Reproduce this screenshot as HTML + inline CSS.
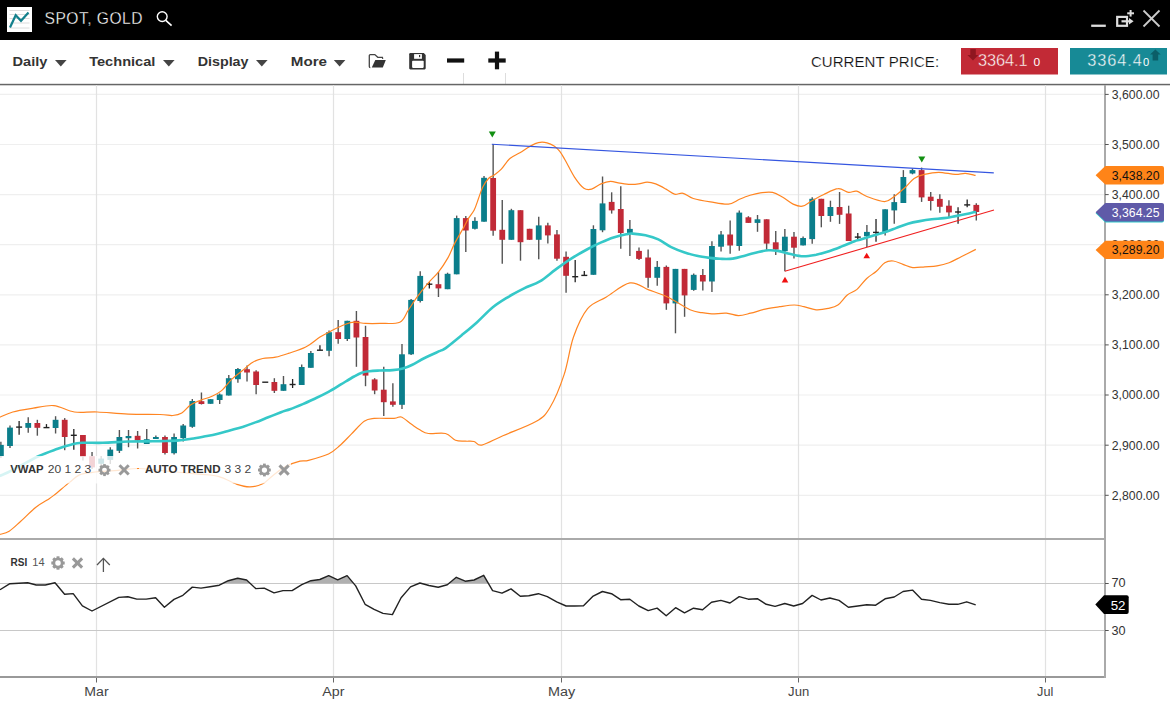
<!DOCTYPE html>
<html><head><meta charset="utf-8"><title>SPOT, GOLD</title>
<style>html,body{margin:0;padding:0;background:#fff;width:1170px;height:701px;overflow:hidden}svg{display:block}</style>
</head><body>
<svg width="1170" height="701" viewBox="0 0 1170 701">
<rect x="0" y="0" width="1170" height="40" fill="#000"/>
<rect x="7" y="7" width="25" height="25" fill="#fff"/>
<line x1="9.5" y1="10.5" x2="29.5" y2="10.5" stroke="#dcdcdc" stroke-width="1"/>
<line x1="9.5" y1="14.5" x2="29.5" y2="14.5" stroke="#dcdcdc" stroke-width="1"/>
<line x1="9.5" y1="18.5" x2="29.5" y2="18.5" stroke="#dcdcdc" stroke-width="1"/>
<line x1="9.5" y1="23" x2="29.5" y2="23" stroke="#dcdcdc" stroke-width="1"/>
<line x1="9.5" y1="28" x2="29.5" y2="28" stroke="#dcdcdc" stroke-width="1"/>
<polyline points="10,27.5 15.7,15.2 21,20.8 28.5,12.5" fill="none" stroke="#13808c" stroke-width="2.2" stroke-linejoin="miter"/>
<text x="44.5" y="24.1" font-family='"Liberation Sans", sans-serif' font-size="15.6" fill="#fff" stroke="#000" stroke-width="0.3" textLength="98" lengthAdjust="spacing">SPOT, GOLD</text>
<circle cx="162.2" cy="16.6" r="4.9" fill="none" stroke="#fff" stroke-width="1.4"/>
<line x1="165.8" y1="20.3" x2="171.6" y2="25.7" stroke="#fff" stroke-width="1.6"/>
<rect x="1091.2" y="24.6" width="14.6" height="2.3" fill="#ddd"/>
<rect x="1117.2" y="16.9" width="9.8" height="8.9" fill="none" stroke="#ddd" stroke-width="2.2"/>
<line x1="1121.5" y1="21.3" x2="1130" y2="21.3" stroke="#ddd" stroke-width="2.2"/>
<polygon points="1129,18 1133.6,21.3 1129,24.6" fill="#ddd"/>
<line x1="1127.2" y1="13.3" x2="1134" y2="13.3" stroke="#ddd" stroke-width="2"/>
<line x1="1130.6" y1="10" x2="1130.6" y2="16.6" stroke="#ddd" stroke-width="2"/>
<line x1="1143.5" y1="10.5" x2="1159.5" y2="26.5" stroke="#ccc" stroke-width="1.8"/>
<line x1="1159.5" y1="10.5" x2="1143.5" y2="26.5" stroke="#ccc" stroke-width="1.8"/>
<text x="12.6" y="65.8" font-family='"Liberation Sans", sans-serif' font-weight="bold" font-size="13.6" fill="#333" textLength="34.8" lengthAdjust="spacingAndGlyphs">Daily</text>
<polygon points="55,60 66.6,60 60.8,66.4" fill="#444"/>
<text x="89.2" y="65.8" font-family='"Liberation Sans", sans-serif' font-weight="bold" font-size="13.6" fill="#333" textLength="66.2" lengthAdjust="spacingAndGlyphs">Technical</text>
<polygon points="163,60 174.6,60 168.8,66.4" fill="#444"/>
<text x="197.7" y="65.8" font-family='"Liberation Sans", sans-serif' font-weight="bold" font-size="13.6" fill="#333" textLength="50.8" lengthAdjust="spacingAndGlyphs">Display</text>
<polygon points="256,60 267.6,60 261.8,66.4" fill="#444"/>
<text x="290.8" y="65.8" font-family='"Liberation Sans", sans-serif' font-weight="bold" font-size="13.6" fill="#333" textLength="36.2" lengthAdjust="spacingAndGlyphs">More</text>
<polygon points="333.8,60 345.40000000000003,60 339.6,66.4" fill="#444"/>
<path d="M382.7,58.8 L382.4,57.4 L377.8,57.3 L374.8,54.6 L370.3,54.6 Q369.3,54.6 369.3,55.6 L369.3,66.6 Q369.3,67.6 370.3,67.6" fill="none" stroke="#444" stroke-width="1.3"/>
<polygon points="375.3,60 385.8,60 382.8,67.6 371.8,67.6" fill="#333"/>
<path d="M409.2,54.2 Q409.2,53.1 410.3,53.1 L423.8,53.1 L425.7,55 L425.7,68.3 Q425.7,69.4 424.6,69.4 L410.3,69.4 Q409.2,69.4 409.2,68.3 Z" fill="#333"/>
<rect x="414.1" y="54.1" width="7.8" height="4.7" fill="#fff"/>
<rect x="419" y="55" width="1.2" height="2.2" fill="#333"/>
<rect x="412.1" y="60.8" width="11.6" height="7.1" rx="0.8" fill="#fff"/>
<rect x="447" y="58.4" width="17.2" height="4.2" fill="#111"/>
<rect x="488.3" y="58.4" width="17.4" height="4.2" fill="#111"/>
<rect x="494.9" y="51.6" width="4.2" height="17.7" fill="#111"/>
<line x1="463.5" y1="73" x2="463.5" y2="84" stroke="#ddd" stroke-width="1"/>
<line x1="505.5" y1="73" x2="505.5" y2="84" stroke="#ddd" stroke-width="1"/>
<text x="810.9" y="67" font-family='"Liberation Sans", sans-serif' font-size="15" fill="#111" stroke="#fff" stroke-width="0.15" textLength="128.2" lengthAdjust="spacing">CURRENT PRICE:</text>
<rect x="961" y="48" width="97" height="26.5" fill="#c22a36"/>
<polygon points="970.3,49 975.8,49 975.8,55 978.4,55 973,60.5 967.4,55 970.3,55" fill="#8f1620"/>
<text x="978" y="66.1" font-family='"Liberation Sans", sans-serif' font-size="16.4" fill="#fff" stroke="#c22a36" stroke-width="0.35" textLength="49.5" lengthAdjust="spacing">3364.1</text>
<text x="1033.6" y="66.1" font-family='"Liberation Sans", sans-serif' font-size="11" fill="#fff" textLength="6.7" lengthAdjust="spacingAndGlyphs">0</text>
<rect x="1070" y="48" width="97" height="26.5" fill="#178a96"/>
<polygon points="1155.4,49.4 1160.7,54.6 1158.2,54.6 1158.2,60.5 1152.6,60.5 1152.6,54.6 1150,54.6" fill="#0b5e68"/>
<text x="1087.2" y="66.1" font-family='"Liberation Sans", sans-serif' font-size="16.4" fill="#fff" stroke="#178a96" stroke-width="0.35" textLength="54.7" lengthAdjust="spacing">3364.4</text>
<text x="1143" y="66.1" font-family='"Liberation Sans", sans-serif' font-size="11" fill="#fff" textLength="6.2" lengthAdjust="spacingAndGlyphs">0</text>
<rect x="0" y="83.8" width="1170" height="1.5" fill="#666"/>
<line x1="0" y1="495.3" x2="1104" y2="495.3" stroke="#efefef" stroke-width="1.2"/>
<line x1="0" y1="445.2" x2="1104" y2="445.2" stroke="#efefef" stroke-width="1.2"/>
<line x1="0" y1="395.0" x2="1104" y2="395.0" stroke="#efefef" stroke-width="1.2"/>
<line x1="0" y1="344.9" x2="1104" y2="344.9" stroke="#efefef" stroke-width="1.2"/>
<line x1="0" y1="294.8" x2="1104" y2="294.8" stroke="#efefef" stroke-width="1.2"/>
<line x1="0" y1="244.7" x2="1104" y2="244.7" stroke="#efefef" stroke-width="1.2"/>
<line x1="0" y1="194.6" x2="1104" y2="194.6" stroke="#efefef" stroke-width="1.2"/>
<line x1="0" y1="144.5" x2="1104" y2="144.5" stroke="#efefef" stroke-width="1.2"/>
<line x1="0" y1="94.4" x2="1104" y2="94.4" stroke="#efefef" stroke-width="1.2"/>
<line x1="96.5" y1="85" x2="96.5" y2="676" stroke="#e2e2e2" stroke-width="1.2"/>
<line x1="333.5" y1="85" x2="333.5" y2="676" stroke="#e2e2e2" stroke-width="1.2"/>
<line x1="561.5" y1="85" x2="561.5" y2="676" stroke="#e2e2e2" stroke-width="1.2"/>
<line x1="798.5" y1="85" x2="798.5" y2="676" stroke="#e2e2e2" stroke-width="1.2"/>
<line x1="1045.5" y1="85" x2="1045.5" y2="676" stroke="#e2e2e2" stroke-width="1.2"/>
<line x1="0" y1="583.5" x2="1104" y2="583.5" stroke="#c8c8c8" stroke-width="1"/>
<line x1="0" y1="630.5" x2="1104" y2="630.5" stroke="#c8c8c8" stroke-width="1"/>
<line x1="0.88" y1="441.7" x2="0.88" y2="458.0" stroke="#555" stroke-width="1.4"/>
<rect x="-2.02" y="444.9" width="5.8" height="11.3" fill="#0b7e8b"/>
<line x1="10.00" y1="425.4" x2="10.00" y2="448.1" stroke="#555" stroke-width="1.4"/>
<rect x="7.10" y="427.6" width="5.8" height="18.4" fill="#0b7e8b"/>
<line x1="19.12" y1="421.1" x2="19.12" y2="434.8" stroke="#222" stroke-width="1.3"/>
<line x1="16.12" y1="427.1" x2="22.12" y2="427.1" stroke="#222" stroke-width="1.4"/>
<line x1="28.23" y1="417.3" x2="28.23" y2="432.7" stroke="#555" stroke-width="1.4"/>
<rect x="25.33" y="423.0" width="5.8" height="4.8" fill="#0b7e8b"/>
<line x1="37.35" y1="419.8" x2="37.35" y2="435.7" stroke="#555" stroke-width="1.4"/>
<rect x="34.45" y="423.0" width="5.8" height="4.8" fill="#c12a37"/>
<line x1="46.46" y1="424.1" x2="46.46" y2="427.6" stroke="#222" stroke-width="1.3"/>
<line x1="43.46" y1="427.6" x2="49.46" y2="427.6" stroke="#222" stroke-width="1.4"/>
<line x1="55.58" y1="416.2" x2="55.58" y2="433.5" stroke="#555" stroke-width="1.4"/>
<rect x="52.68" y="419.8" width="5.8" height="8.2" fill="#0b7e8b"/>
<line x1="64.70" y1="418.1" x2="64.70" y2="450.2" stroke="#555" stroke-width="1.4"/>
<rect x="61.80" y="419.8" width="5.8" height="17.2" fill="#c12a37"/>
<line x1="73.81" y1="429.0" x2="73.81" y2="449.8" stroke="#222" stroke-width="1.3"/>
<line x1="70.81" y1="435.3" x2="76.81" y2="435.3" stroke="#222" stroke-width="1.4"/>
<line x1="82.93" y1="435.0" x2="82.93" y2="460.5" stroke="#555" stroke-width="1.4"/>
<rect x="80.03" y="435.0" width="5.8" height="21.9" fill="#c12a37"/>
<line x1="92.04" y1="452.0" x2="92.04" y2="469.0" stroke="#555" stroke-width="1.4"/>
<rect x="89.14" y="456.2" width="5.8" height="11.2" fill="#c12a37"/>
<line x1="101.16" y1="456.0" x2="101.16" y2="466.0" stroke="#555" stroke-width="1.4"/>
<rect x="98.26" y="458.6" width="5.8" height="5.2" fill="#0b7e8b"/>
<line x1="110.28" y1="447.2" x2="110.28" y2="464.0" stroke="#555" stroke-width="1.4"/>
<rect x="107.38" y="449.6" width="5.8" height="10.3" fill="#0b7e8b"/>
<line x1="119.39" y1="430.0" x2="119.39" y2="453.0" stroke="#555" stroke-width="1.4"/>
<rect x="116.49" y="437.0" width="5.8" height="13.8" fill="#0b7e8b"/>
<line x1="128.51" y1="430.0" x2="128.51" y2="447.2" stroke="#555" stroke-width="1.4"/>
<rect x="125.61" y="436.0" width="5.8" height="2.2" fill="#0b7e8b"/>
<line x1="137.62" y1="431.0" x2="137.62" y2="448.5" stroke="#555" stroke-width="1.4"/>
<rect x="134.72" y="435.8" width="5.8" height="4.7" fill="#c12a37"/>
<line x1="146.74" y1="429.0" x2="146.74" y2="444.0" stroke="#555" stroke-width="1.4"/>
<rect x="143.84" y="439.2" width="5.8" height="4.8" fill="#0b7e8b"/>
<line x1="155.86" y1="435.5" x2="155.86" y2="439.0" stroke="#555" stroke-width="1.4"/>
<rect x="152.96" y="437.0" width="5.8" height="2.0" fill="#0b7e8b"/>
<line x1="164.97" y1="435.5" x2="164.97" y2="454.5" stroke="#555" stroke-width="1.4"/>
<rect x="162.07" y="437.0" width="5.8" height="16.0" fill="#c12a37"/>
<line x1="174.09" y1="433.5" x2="174.09" y2="454.5" stroke="#555" stroke-width="1.4"/>
<rect x="171.19" y="437.0" width="5.8" height="16.2" fill="#0b7e8b"/>
<line x1="183.20" y1="424.0" x2="183.20" y2="441.5" stroke="#555" stroke-width="1.4"/>
<rect x="180.30" y="425.5" width="5.8" height="12.5" fill="#0b7e8b"/>
<line x1="192.32" y1="399.0" x2="192.32" y2="427.8" stroke="#555" stroke-width="1.4"/>
<rect x="189.42" y="401.0" width="5.8" height="25.8" fill="#0b7e8b"/>
<line x1="201.44" y1="392.5" x2="201.44" y2="404.5" stroke="#555" stroke-width="1.4"/>
<rect x="198.54" y="401.2" width="5.8" height="2.8" fill="#c12a37"/>
<line x1="210.55" y1="399.2" x2="210.55" y2="403.8" stroke="#555" stroke-width="1.4"/>
<rect x="207.65" y="399.2" width="5.8" height="4.6" fill="#0b7e8b"/>
<line x1="219.67" y1="393.5" x2="219.67" y2="404.0" stroke="#555" stroke-width="1.4"/>
<rect x="216.77" y="394.5" width="5.8" height="5.5" fill="#0b7e8b"/>
<line x1="228.78" y1="375.0" x2="228.78" y2="395.5" stroke="#555" stroke-width="1.4"/>
<rect x="225.88" y="378.2" width="5.8" height="17.3" fill="#0b7e8b"/>
<line x1="237.90" y1="368.0" x2="237.90" y2="382.8" stroke="#555" stroke-width="1.4"/>
<rect x="235.00" y="369.0" width="5.8" height="10.2" fill="#0b7e8b"/>
<line x1="247.02" y1="365.5" x2="247.02" y2="381.5" stroke="#555" stroke-width="1.4"/>
<rect x="244.12" y="369.2" width="5.8" height="3.3" fill="#c12a37"/>
<line x1="256.13" y1="370.2" x2="256.13" y2="394.2" stroke="#555" stroke-width="1.4"/>
<rect x="253.23" y="371.5" width="5.8" height="13.5" fill="#c12a37"/>
<line x1="265.25" y1="382.2" x2="265.25" y2="382.2" stroke="#222" stroke-width="1.3"/>
<line x1="262.25" y1="382.2" x2="268.25" y2="382.2" stroke="#222" stroke-width="1.4"/>
<line x1="274.36" y1="378.2" x2="274.36" y2="393.0" stroke="#555" stroke-width="1.4"/>
<rect x="271.46" y="382.0" width="5.8" height="8.8" fill="#c12a37"/>
<line x1="283.48" y1="376.0" x2="283.48" y2="390.8" stroke="#555" stroke-width="1.4"/>
<rect x="280.58" y="384.2" width="5.8" height="6.6" fill="#0b7e8b"/>
<line x1="292.60" y1="379.0" x2="292.60" y2="388.0" stroke="#222" stroke-width="1.3"/>
<line x1="289.60" y1="384.5" x2="295.60" y2="384.5" stroke="#222" stroke-width="1.4"/>
<line x1="301.71" y1="364.5" x2="301.71" y2="385.0" stroke="#555" stroke-width="1.4"/>
<rect x="298.81" y="367.0" width="5.8" height="18.0" fill="#0b7e8b"/>
<line x1="310.83" y1="351.0" x2="310.83" y2="367.8" stroke="#555" stroke-width="1.4"/>
<rect x="307.93" y="353.0" width="5.8" height="14.8" fill="#0b7e8b"/>
<line x1="319.94" y1="345.2" x2="319.94" y2="350.2" stroke="#222" stroke-width="1.3"/>
<line x1="316.94" y1="350.2" x2="322.94" y2="350.2" stroke="#222" stroke-width="1.4"/>
<line x1="329.06" y1="330.5" x2="329.06" y2="356.2" stroke="#555" stroke-width="1.4"/>
<rect x="326.16" y="332.2" width="5.8" height="18.6" fill="#0b7e8b"/>
<line x1="338.18" y1="320.0" x2="338.18" y2="343.8" stroke="#555" stroke-width="1.4"/>
<rect x="335.28" y="332.2" width="5.8" height="6.8" fill="#c12a37"/>
<line x1="347.29" y1="320.8" x2="347.29" y2="341.0" stroke="#555" stroke-width="1.4"/>
<rect x="344.39" y="320.8" width="5.8" height="18.2" fill="#0b7e8b"/>
<line x1="356.41" y1="311.0" x2="356.41" y2="366.8" stroke="#555" stroke-width="1.4"/>
<rect x="353.51" y="320.8" width="5.8" height="16.7" fill="#c12a37"/>
<line x1="365.52" y1="325.8" x2="365.52" y2="386.2" stroke="#555" stroke-width="1.4"/>
<rect x="362.62" y="337.0" width="5.8" height="38.6" fill="#c12a37"/>
<line x1="374.64" y1="378.2" x2="374.64" y2="394.2" stroke="#555" stroke-width="1.4"/>
<rect x="371.74" y="379.4" width="5.8" height="11.1" fill="#c12a37"/>
<line x1="383.76" y1="366.8" x2="383.76" y2="415.9" stroke="#555" stroke-width="1.4"/>
<rect x="380.86" y="389.7" width="5.8" height="12.5" fill="#c12a37"/>
<line x1="392.87" y1="383.2" x2="392.87" y2="406.8" stroke="#555" stroke-width="1.4"/>
<rect x="389.97" y="401.4" width="5.8" height="3.4" fill="#c12a37"/>
<line x1="401.99" y1="344.0" x2="401.99" y2="409.0" stroke="#555" stroke-width="1.4"/>
<rect x="399.09" y="354.3" width="5.8" height="50.5" fill="#0b7e8b"/>
<line x1="411.10" y1="299.0" x2="411.10" y2="355.0" stroke="#555" stroke-width="1.4"/>
<rect x="408.20" y="299.9" width="5.8" height="54.4" fill="#0b7e8b"/>
<line x1="420.22" y1="271.2" x2="420.22" y2="302.5" stroke="#555" stroke-width="1.4"/>
<rect x="417.32" y="275.9" width="5.8" height="25.1" fill="#0b7e8b"/>
<line x1="429.34" y1="282.2" x2="429.34" y2="288.4" stroke="#222" stroke-width="1.3"/>
<line x1="426.34" y1="284.2" x2="432.34" y2="284.2" stroke="#222" stroke-width="1.4"/>
<line x1="438.45" y1="272.0" x2="438.45" y2="297.0" stroke="#555" stroke-width="1.4"/>
<rect x="435.55" y="284.2" width="5.8" height="4.2" fill="#c12a37"/>
<line x1="447.57" y1="272.7" x2="447.57" y2="289.2" stroke="#555" stroke-width="1.4"/>
<rect x="444.67" y="273.8" width="5.8" height="15.4" fill="#0b7e8b"/>
<line x1="456.68" y1="215.6" x2="456.68" y2="274.3" stroke="#555" stroke-width="1.4"/>
<rect x="453.78" y="218.1" width="5.8" height="56.2" fill="#0b7e8b"/>
<line x1="465.80" y1="216.0" x2="465.80" y2="251.9" stroke="#555" stroke-width="1.4"/>
<rect x="462.90" y="218.1" width="5.8" height="12.4" fill="#c12a37"/>
<line x1="474.92" y1="217.3" x2="474.92" y2="229.5" stroke="#555" stroke-width="1.4"/>
<rect x="472.02" y="220.9" width="5.8" height="7.9" fill="#0b7e8b"/>
<line x1="484.03" y1="176.0" x2="484.03" y2="221.7" stroke="#555" stroke-width="1.4"/>
<rect x="481.13" y="177.8" width="5.8" height="43.9" fill="#0b7e8b"/>
<line x1="493.15" y1="144.0" x2="493.15" y2="235.8" stroke="#555" stroke-width="1.4"/>
<rect x="490.25" y="178.0" width="5.8" height="52.7" fill="#c12a37"/>
<line x1="502.26" y1="199.9" x2="502.26" y2="263.7" stroke="#555" stroke-width="1.4"/>
<rect x="499.36" y="229.8" width="5.8" height="10.0" fill="#c12a37"/>
<line x1="511.38" y1="208.8" x2="511.38" y2="239.8" stroke="#555" stroke-width="1.4"/>
<rect x="508.48" y="210.2" width="5.8" height="29.6" fill="#0b7e8b"/>
<line x1="520.50" y1="210.2" x2="520.50" y2="260.7" stroke="#555" stroke-width="1.4"/>
<rect x="517.60" y="210.2" width="5.8" height="32.0" fill="#c12a37"/>
<line x1="529.61" y1="228.8" x2="529.61" y2="239.8" stroke="#555" stroke-width="1.4"/>
<rect x="526.71" y="228.8" width="5.8" height="11.0" fill="#c12a37"/>
<line x1="538.73" y1="216.8" x2="538.73" y2="259.3" stroke="#555" stroke-width="1.4"/>
<rect x="535.83" y="225.4" width="5.8" height="14.4" fill="#0b7e8b"/>
<line x1="547.84" y1="222.8" x2="547.84" y2="243.4" stroke="#555" stroke-width="1.4"/>
<rect x="544.94" y="225.4" width="5.8" height="10.0" fill="#c12a37"/>
<line x1="556.96" y1="230.0" x2="556.96" y2="260.8" stroke="#555" stroke-width="1.4"/>
<rect x="554.06" y="234.4" width="5.8" height="24.3" fill="#c12a37"/>
<line x1="566.08" y1="251.6" x2="566.08" y2="292.8" stroke="#555" stroke-width="1.4"/>
<rect x="563.18" y="256.8" width="5.8" height="19.0" fill="#c12a37"/>
<line x1="575.19" y1="260.0" x2="575.19" y2="282.2" stroke="#222" stroke-width="1.3"/>
<line x1="572.19" y1="276.7" x2="578.19" y2="276.7" stroke="#222" stroke-width="1.4"/>
<line x1="584.31" y1="271.1" x2="584.31" y2="275.4" stroke="#222" stroke-width="1.3"/>
<line x1="581.31" y1="275.4" x2="587.31" y2="275.4" stroke="#222" stroke-width="1.4"/>
<line x1="593.42" y1="225.3" x2="593.42" y2="274.8" stroke="#555" stroke-width="1.4"/>
<rect x="590.52" y="229.0" width="5.8" height="45.8" fill="#0b7e8b"/>
<line x1="602.54" y1="176.5" x2="602.54" y2="232.2" stroke="#555" stroke-width="1.4"/>
<rect x="599.64" y="203.4" width="5.8" height="26.9" fill="#0b7e8b"/>
<line x1="611.66" y1="192.3" x2="611.66" y2="213.6" stroke="#555" stroke-width="1.4"/>
<rect x="608.76" y="201.9" width="5.8" height="8.5" fill="#c12a37"/>
<line x1="620.77" y1="186.3" x2="620.77" y2="248.8" stroke="#555" stroke-width="1.4"/>
<rect x="617.87" y="209.0" width="5.8" height="24.0" fill="#c12a37"/>
<line x1="629.89" y1="220.0" x2="629.89" y2="255.9" stroke="#555" stroke-width="1.4"/>
<rect x="626.99" y="228.9" width="5.8" height="4.0" fill="#0b7e8b"/>
<line x1="639.00" y1="247.5" x2="639.00" y2="259.9" stroke="#555" stroke-width="1.4"/>
<rect x="636.10" y="250.9" width="5.8" height="8.0" fill="#c12a37"/>
<line x1="648.12" y1="249.5" x2="648.12" y2="287.8" stroke="#555" stroke-width="1.4"/>
<rect x="645.22" y="257.5" width="5.8" height="20.3" fill="#c12a37"/>
<line x1="657.24" y1="260.9" x2="657.24" y2="285.8" stroke="#555" stroke-width="1.4"/>
<rect x="654.34" y="266.9" width="5.8" height="10.9" fill="#0b7e8b"/>
<line x1="666.35" y1="265.5" x2="666.35" y2="309.8" stroke="#555" stroke-width="1.4"/>
<rect x="663.45" y="266.9" width="5.8" height="36.5" fill="#c12a37"/>
<line x1="675.47" y1="268.9" x2="675.47" y2="333.3" stroke="#555" stroke-width="1.4"/>
<rect x="672.57" y="268.9" width="5.8" height="34.5" fill="#0b7e8b"/>
<line x1="684.58" y1="268.9" x2="684.58" y2="316.8" stroke="#555" stroke-width="1.4"/>
<rect x="681.68" y="268.9" width="5.8" height="26.5" fill="#c12a37"/>
<line x1="693.70" y1="273.5" x2="693.70" y2="290.8" stroke="#555" stroke-width="1.4"/>
<rect x="690.80" y="274.8" width="5.8" height="15.1" fill="#0b7e8b"/>
<line x1="702.82" y1="269.0" x2="702.82" y2="290.6" stroke="#555" stroke-width="1.4"/>
<rect x="699.92" y="275.0" width="5.8" height="6.5" fill="#c12a37"/>
<line x1="711.93" y1="241.3" x2="711.93" y2="291.9" stroke="#555" stroke-width="1.4"/>
<rect x="709.03" y="246.0" width="5.8" height="35.5" fill="#0b7e8b"/>
<line x1="721.05" y1="231.1" x2="721.05" y2="251.4" stroke="#555" stroke-width="1.4"/>
<rect x="718.15" y="234.5" width="5.8" height="12.2" fill="#0b7e8b"/>
<line x1="730.16" y1="220.4" x2="730.16" y2="253.8" stroke="#555" stroke-width="1.4"/>
<rect x="727.26" y="234.5" width="5.8" height="11.0" fill="#c12a37"/>
<line x1="739.28" y1="210.4" x2="739.28" y2="250.7" stroke="#555" stroke-width="1.4"/>
<rect x="736.38" y="212.6" width="5.8" height="33.4" fill="#0b7e8b"/>
<line x1="748.40" y1="216.2" x2="748.40" y2="222.9" stroke="#555" stroke-width="1.4"/>
<rect x="745.50" y="217.3" width="5.8" height="5.6" fill="#c12a37"/>
<line x1="757.51" y1="215.0" x2="757.51" y2="231.8" stroke="#555" stroke-width="1.4"/>
<rect x="754.61" y="219.3" width="5.8" height="3.6" fill="#0b7e8b"/>
<line x1="766.63" y1="219.3" x2="766.63" y2="249.9" stroke="#555" stroke-width="1.4"/>
<rect x="763.73" y="219.3" width="5.8" height="24.3" fill="#c12a37"/>
<line x1="775.74" y1="230.9" x2="775.74" y2="254.9" stroke="#555" stroke-width="1.4"/>
<rect x="772.84" y="242.3" width="5.8" height="7.3" fill="#c12a37"/>
<line x1="784.86" y1="228.9" x2="784.86" y2="271.2" stroke="#555" stroke-width="1.4"/>
<rect x="781.96" y="236.7" width="5.8" height="14.5" fill="#0b7e8b"/>
<line x1="793.98" y1="232.0" x2="793.98" y2="258.4" stroke="#555" stroke-width="1.4"/>
<rect x="791.08" y="236.7" width="5.8" height="11.0" fill="#c12a37"/>
<line x1="803.09" y1="236.4" x2="803.09" y2="245.4" stroke="#555" stroke-width="1.4"/>
<rect x="800.19" y="238.0" width="5.8" height="7.4" fill="#0b7e8b"/>
<line x1="812.21" y1="197.2" x2="812.21" y2="243.8" stroke="#555" stroke-width="1.4"/>
<rect x="809.31" y="198.8" width="5.8" height="40.3" fill="#0b7e8b"/>
<line x1="821.32" y1="198.8" x2="821.32" y2="227.3" stroke="#555" stroke-width="1.4"/>
<rect x="818.42" y="198.8" width="5.8" height="17.2" fill="#c12a37"/>
<line x1="830.44" y1="200.7" x2="830.44" y2="221.8" stroke="#555" stroke-width="1.4"/>
<rect x="827.54" y="207.0" width="5.8" height="9.0" fill="#0b7e8b"/>
<line x1="839.56" y1="192.0" x2="839.56" y2="223.9" stroke="#555" stroke-width="1.4"/>
<rect x="836.66" y="207.0" width="5.8" height="7.8" fill="#c12a37"/>
<line x1="848.67" y1="205.7" x2="848.67" y2="241.0" stroke="#555" stroke-width="1.4"/>
<rect x="845.77" y="213.5" width="5.8" height="27.5" fill="#c12a37"/>
<line x1="857.79" y1="233.1" x2="857.79" y2="239.1" stroke="#222" stroke-width="1.3"/>
<line x1="854.79" y1="237.1" x2="860.79" y2="237.1" stroke="#222" stroke-width="1.4"/>
<line x1="866.90" y1="225.0" x2="866.90" y2="246.9" stroke="#555" stroke-width="1.4"/>
<rect x="864.00" y="231.9" width="5.8" height="4.4" fill="#0b7e8b"/>
<line x1="876.02" y1="219.0" x2="876.02" y2="241.8" stroke="#222" stroke-width="1.3"/>
<line x1="873.02" y1="232.4" x2="879.02" y2="232.4" stroke="#222" stroke-width="1.4"/>
<line x1="885.14" y1="209.3" x2="885.14" y2="235.5" stroke="#555" stroke-width="1.4"/>
<rect x="882.24" y="209.3" width="5.8" height="22.6" fill="#0b7e8b"/>
<line x1="894.25" y1="194.2" x2="894.25" y2="223.7" stroke="#555" stroke-width="1.4"/>
<rect x="891.35" y="202.1" width="5.8" height="8.3" fill="#0b7e8b"/>
<line x1="903.37" y1="170.1" x2="903.37" y2="203.0" stroke="#555" stroke-width="1.4"/>
<rect x="900.47" y="177.0" width="5.8" height="26.0" fill="#0b7e8b"/>
<line x1="912.48" y1="168.5" x2="912.48" y2="174.3" stroke="#555" stroke-width="1.4"/>
<rect x="909.58" y="170.1" width="5.8" height="3.4" fill="#0b7e8b"/>
<line x1="921.60" y1="167.6" x2="921.60" y2="201.9" stroke="#555" stroke-width="1.4"/>
<rect x="918.70" y="170.1" width="5.8" height="27.3" fill="#c12a37"/>
<line x1="930.72" y1="192.0" x2="930.72" y2="210.4" stroke="#555" stroke-width="1.4"/>
<rect x="927.82" y="196.7" width="5.8" height="4.3" fill="#c12a37"/>
<line x1="939.83" y1="194.2" x2="939.83" y2="212.7" stroke="#555" stroke-width="1.4"/>
<rect x="936.93" y="198.9" width="5.8" height="7.9" fill="#c12a37"/>
<line x1="948.95" y1="200.2" x2="948.95" y2="217.1" stroke="#555" stroke-width="1.4"/>
<rect x="946.05" y="205.7" width="5.8" height="6.7" fill="#c12a37"/>
<line x1="958.06" y1="207.2" x2="958.06" y2="223.7" stroke="#222" stroke-width="1.3"/>
<line x1="955.06" y1="212.0" x2="961.06" y2="212.0" stroke="#222" stroke-width="1.4"/>
<line x1="967.18" y1="199.4" x2="967.18" y2="207.2" stroke="#222" stroke-width="1.3"/>
<line x1="964.18" y1="204.9" x2="970.18" y2="204.9" stroke="#222" stroke-width="1.4"/>
<line x1="976.30" y1="203.3" x2="976.30" y2="220.6" stroke="#555" stroke-width="1.4"/>
<rect x="973.40" y="204.9" width="5.8" height="7.1" fill="#c12a37"/>
<path d="M0.0,417.2 C2.1,416.3 7.3,413.5 12.8,412.0 C18.4,410.5 26.5,409.3 33.3,408.2 C40.1,407.1 46.9,405.0 53.8,405.6 C60.6,406.2 67.1,410.9 74.4,412.0 C81.7,413.1 88.4,411.6 97.4,412.0 C106.4,412.4 117.8,413.7 128.2,414.1 C138.6,414.5 152.6,414.3 160.0,414.5 C167.4,414.7 169.2,415.8 172.8,415.5 C176.4,415.2 178.8,414.8 181.8,413.0 C184.8,411.2 187.6,406.8 190.8,404.7 C194.0,402.6 197.7,401.5 201.1,400.1 C204.5,398.7 208.0,398.1 211.4,396.5 C214.8,394.9 218.2,393.5 221.6,390.6 C225.0,387.7 228.5,382.4 231.9,379.1 C235.3,375.8 238.8,373.6 242.2,370.8 C245.6,368.0 249.0,364.4 252.4,362.4 C255.8,360.3 258.8,359.4 262.7,358.5 C266.6,357.6 271.3,358.1 275.6,357.2 C279.9,356.3 283.4,355.1 288.4,353.4 C293.4,351.7 300.4,349.7 305.7,347.0 C311.0,344.3 315.7,339.8 320.0,337.1 C324.3,334.4 327.1,333.0 331.4,330.8 C335.7,328.6 341.8,325.6 345.6,324.2 C349.4,322.8 350.9,322.3 354.2,322.2 C357.5,322.1 361.3,323.2 365.6,323.4 C369.9,323.6 374.2,323.6 379.9,323.4 C385.6,323.2 395.1,324.4 399.8,322.2 C404.6,320.0 405.5,314.2 408.4,310.0 C411.3,305.8 413.7,301.6 417.0,297.1 C420.3,292.6 424.8,287.1 428.4,282.9 C432.0,278.6 435.6,275.8 438.8,271.6 C442.1,267.4 445.2,262.6 447.9,257.9 C450.6,253.1 452.1,248.2 454.8,243.1 C457.5,238.0 461.6,231.2 463.9,227.1 C466.2,223.0 466.8,221.3 468.5,218.4 C470.2,215.5 472.5,213.2 474.2,209.9 C475.9,206.6 477.1,202.3 478.5,198.5 C479.9,194.7 481.1,190.4 482.8,187.1 C484.5,183.8 486.6,180.5 488.5,178.5 C490.4,176.5 492.1,176.5 494.2,174.9 C496.3,173.3 498.7,171.9 501.3,169.2 C503.9,166.5 506.8,161.2 509.9,158.5 C513.0,155.8 516.6,154.8 519.9,152.8 C523.2,150.8 526.8,148.1 529.9,146.4 C533.0,144.7 535.5,143.2 538.4,142.6 C541.2,142.0 544.4,142.2 547.0,142.8 C549.6,143.4 552.0,144.6 554.1,146.0 C556.2,147.4 558.0,149.1 559.8,151.4 C561.6,153.7 562.6,155.7 565.1,160.0 C567.6,164.3 571.4,172.4 574.5,177.1 C577.6,181.8 581.0,186.2 583.9,188.2 C586.8,190.2 588.8,189.8 591.6,189.1 C594.5,188.4 597.9,185.2 601.0,183.9 C604.1,182.6 607.3,181.5 610.4,181.4 C613.5,181.3 616.5,182.6 619.8,183.1 C623.1,183.6 627.0,184.3 630.1,184.4 C633.2,184.5 635.8,184.3 638.6,183.9 C641.5,183.5 644.4,182.2 647.2,182.2 C650.1,182.2 652.6,182.8 655.7,183.9 C658.8,185.1 662.9,187.4 666.0,189.1 C669.1,190.8 671.6,193.5 674.5,194.2 C677.4,194.9 680.0,192.6 683.1,193.3 C686.2,194.0 688.8,197.1 693.3,198.5 C697.8,199.9 704.5,201.0 710.4,201.9 C716.2,202.8 723.5,204.5 728.4,204.1 C733.2,203.7 735.9,200.8 739.5,199.3 C743.1,197.8 746.5,196.4 750.0,195.3 C753.5,194.2 756.5,193.3 760.3,192.8 C764.1,192.3 768.9,191.7 772.6,192.4 C776.4,193.2 779.4,195.4 782.8,197.3 C786.2,199.2 789.9,202.6 793.1,204.1 C796.4,205.6 799.2,206.7 802.3,206.2 C805.4,205.7 807.9,202.9 811.5,201.0 C815.1,199.1 819.3,196.6 823.8,194.5 C828.2,192.4 834.1,189.0 838.2,188.7 C842.3,188.3 845.4,192.0 848.5,192.4 C851.6,192.8 853.6,190.5 856.7,191.2 C859.8,191.9 862.3,194.8 866.9,196.5 C871.5,198.2 879.9,201.5 884.4,201.6 C888.9,201.7 890.0,199.4 893.6,196.9 C897.2,194.4 902.5,189.8 905.9,186.7 C909.3,183.6 911.0,180.6 914.1,178.5 C917.2,176.4 920.3,175.4 924.4,174.4 C928.5,173.4 933.6,172.3 938.7,172.3 C943.8,172.3 950.7,174.2 955.1,174.4 C959.5,174.6 962.0,173.1 965.4,173.3 C968.8,173.5 973.9,175.1 975.6,175.4" fill="none" stroke="#ff8522" stroke-width="1.2" stroke-linejoin="round"/>
<path d="M0.0,534.4 C1.5,533.9 5.8,533.4 9.2,531.3 C12.6,529.1 16.1,525.5 20.5,521.5 C24.9,517.5 31.4,510.8 35.9,507.2 C40.4,503.6 44.2,502.0 47.2,500.0 C50.2,498.0 50.1,498.3 53.8,495.4 C57.5,492.5 64.9,486.0 69.2,482.6 C73.5,479.2 75.7,476.6 79.5,474.9 C83.3,473.2 85.9,473.1 92.3,472.3 C98.7,471.5 110.3,470.9 118.0,470.3 C125.7,469.7 131.5,468.5 138.5,468.5 C145.5,468.5 150.0,469.6 160.0,470.5 C170.0,471.4 188.7,473.1 198.5,474.1 C208.3,475.1 212.6,474.9 219.0,476.6 C225.4,478.3 231.8,482.7 237.0,484.4 C242.2,486.1 245.6,487.0 249.9,486.9 C254.2,486.8 258.8,485.7 262.7,483.8 C266.6,481.9 269.1,478.3 273.0,475.4 C276.9,472.5 281.3,468.8 285.8,466.4 C290.3,464.0 296.2,462.2 300.0,461.2 C303.8,460.2 303.8,461.5 308.5,460.3 C313.2,459.1 323.3,456.5 328.5,454.0 C333.7,451.5 336.1,448.8 339.9,445.5 C343.7,442.2 347.2,438.2 351.3,434.1 C355.4,430.1 360.4,423.8 364.2,421.2 C368.0,418.6 369.2,418.9 374.2,418.4 C379.2,417.9 389.6,418.6 394.1,418.4 C398.6,418.2 398.5,416.1 401.3,417.0 C404.1,417.9 408.1,422.0 411.2,424.1 C414.3,426.2 416.9,428.2 419.8,429.8 C422.7,431.4 424.1,432.9 428.4,433.5 C432.7,434.1 441.0,432.4 445.5,433.5 C450.0,434.6 452.2,439.0 455.5,440.3 C458.8,441.6 462.3,441.0 465.4,441.2 C468.5,441.4 471.3,440.9 474.0,441.5 C476.7,442.1 477.0,446.1 481.8,445.1 C486.6,444.1 493.9,439.6 502.9,435.7 C511.9,431.8 528.0,426.3 535.9,421.6 C543.8,416.9 545.3,415.3 550.0,407.5 C554.7,399.7 560.2,386.4 564.1,374.6 C568.0,362.9 569.6,348.0 573.5,337.0 C577.4,326.0 582.1,315.4 587.6,308.7 C593.1,302.0 599.4,301.3 606.4,297.0 C613.4,292.7 622.8,284.1 629.9,282.9 C637.0,281.7 642.4,287.5 648.7,289.9 C655.0,292.2 660.6,293.7 667.5,297.0 C674.4,300.3 684.2,307.2 690.0,309.8 C695.8,312.4 698.5,312.0 702.1,312.7 C705.7,313.4 707.8,313.8 711.8,313.9 C715.8,314.0 721.9,312.9 726.4,313.2 C730.9,313.5 734.5,315.6 738.5,315.6 C742.5,315.6 746.1,314.3 750.6,313.2 C755.1,312.1 760.4,310.2 765.2,309.1 C770.1,308.0 774.9,307.4 779.7,306.7 C784.5,306.0 790.2,305.0 794.2,305.0 C798.2,305.0 800.2,305.9 803.9,306.7 C807.5,307.5 812.0,309.5 816.1,309.8 C820.2,310.1 824.6,309.2 828.2,308.4 C831.8,307.6 834.7,307.2 837.9,305.0 C841.1,302.8 844.1,297.6 847.3,295.0 C850.5,292.4 853.8,292.1 857.0,289.4 C860.2,286.6 863.5,281.5 866.7,278.5 C869.9,275.5 873.4,273.8 876.4,271.2 C879.4,268.6 882.0,264.4 884.8,262.7 C887.6,261.0 890.3,260.7 893.3,261.0 C896.3,261.3 899.8,263.3 903.0,264.4 C906.2,265.5 909.1,267.2 912.7,267.6 C916.3,268.0 920.8,267.1 924.8,266.8 C928.8,266.5 933.0,266.6 937.0,265.9 C941.0,265.2 945.1,264.2 949.1,262.7 C953.1,261.2 956.8,258.9 961.2,256.7 C965.7,254.5 973.4,250.6 975.8,249.4" fill="none" stroke="#ff8522" stroke-width="1.2" stroke-linejoin="round"/>
<path d="M0.0,475.8 C2.1,474.8 6.4,473.3 12.8,470.0 C19.2,466.7 31.0,459.7 38.5,456.2 C46.0,452.7 52.2,450.8 57.7,448.8 C63.2,446.8 67.7,445.4 71.8,444.4 C75.9,443.4 77.0,443.1 82.1,442.8 C87.2,442.5 94.9,443.0 102.6,442.8 C110.3,442.6 119.8,441.8 128.2,441.5 C136.6,441.2 146.6,441.4 152.8,441.3 C159.0,441.2 161.3,441.1 165.6,441.0 C169.9,440.9 174.2,440.8 178.5,440.4 C182.8,440.0 187.0,439.3 191.3,438.7 C195.6,438.1 199.8,437.3 204.1,436.5 C208.4,435.7 212.6,435.0 216.9,434.0 C221.2,433.0 225.4,431.7 229.7,430.5 C234.0,429.3 238.3,428.2 242.6,426.9 C246.9,425.5 251.1,424.0 255.4,422.4 C259.7,420.8 263.9,419.0 268.2,417.3 C272.5,415.6 277.4,413.6 281.0,412.2 C284.6,410.8 286.4,410.5 290.0,409.2 C293.6,407.9 298.5,405.9 302.8,404.1 C307.1,402.3 311.3,400.3 315.6,398.3 C319.9,396.3 324.2,394.2 328.5,391.9 C332.8,389.5 337.0,386.8 341.3,384.2 C345.6,381.6 350.7,378.4 354.1,376.5 C357.5,374.6 359.2,373.6 361.8,372.7 C364.4,371.8 366.5,371.6 369.5,371.2 C372.5,370.8 375.8,370.7 379.7,370.5 C383.6,370.3 388.8,370.4 392.6,370.1 C396.5,369.8 399.6,369.4 402.8,368.5 C406.0,367.6 408.2,366.8 411.8,365.0 C415.4,363.2 419.9,360.4 424.6,358.0 C429.3,355.6 436.5,352.5 440.0,350.9 C443.5,349.2 442.1,350.7 445.7,348.1 C449.3,345.5 456.2,339.8 461.4,335.5 C466.6,331.2 471.9,326.9 477.1,322.2 C482.3,317.5 487.6,311.5 492.8,307.3 C498.0,303.1 503.3,300.0 508.5,296.8 C513.7,293.6 518.9,291.0 524.1,288.4 C529.3,285.8 534.6,284.5 539.8,281.4 C545.0,278.3 550.3,273.4 555.5,269.6 C560.7,265.8 565.8,262.0 571.2,258.6 C576.6,255.2 582.9,251.7 587.8,249.0 C592.7,246.3 596.3,244.5 600.6,242.6 C604.9,240.7 609.2,238.8 613.5,237.4 C617.8,236.0 623.1,234.8 626.3,234.2 C629.5,233.6 629.5,233.4 632.7,233.6 C635.9,233.8 641.2,234.3 645.5,235.3 C649.8,236.3 654.0,237.4 658.3,239.4 C662.6,241.4 666.9,245.0 671.2,247.1 C675.5,249.2 679.7,250.8 684.0,252.2 C688.3,253.6 692.5,254.9 696.8,255.8 C701.1,256.8 705.7,257.4 709.6,257.9 C713.5,258.4 716.1,258.7 720.0,258.8 C723.9,258.9 728.5,259.2 732.8,258.6 C737.1,258.0 741.3,256.5 745.6,255.4 C749.9,254.3 754.6,252.8 758.5,251.9 C762.4,251.1 765.5,250.5 768.7,250.3 C771.9,250.1 774.1,250.3 777.7,250.9 C781.3,251.5 786.2,253.2 790.5,254.1 C794.8,255.0 799.0,256.2 803.3,256.3 C807.6,256.4 811.9,255.5 816.2,254.7 C820.5,253.8 824.7,252.6 829.0,251.2 C833.3,249.8 837.5,248.1 841.8,246.4 C846.1,244.8 851.6,242.4 854.6,241.3 C857.6,240.2 857.1,240.6 860.0,239.7 C862.9,238.8 868.0,237.3 872.0,236.1 C876.0,234.9 879.9,233.8 883.9,232.5 C887.9,231.2 891.9,229.6 895.9,228.1 C899.9,226.6 903.9,224.9 907.9,223.7 C911.9,222.5 915.8,221.8 919.8,221.1 C923.8,220.4 927.8,219.8 931.8,219.3 C935.8,218.8 939.8,218.6 943.8,218.1 C947.8,217.6 951.7,216.8 955.7,216.1 C959.7,215.4 964.5,214.4 967.7,213.7 C970.9,213.0 973.8,212.4 975.0,212.1" fill="none" stroke="#35c8c8" stroke-width="2.6" stroke-linejoin="round" stroke-linecap="round"/>
<line x1="491.8" y1="144.2" x2="993.8" y2="172.9" stroke="#3556e0" stroke-width="1.1"/>
<line x1="784.8" y1="271.3" x2="994" y2="210" stroke="#f02020" stroke-width="1.1"/>
<polygon points="488.8,131.5 495.8,131.5 492.3,137.5" fill="#129012"/>
<polygon points="918.3,156.4 925.3,156.4 921.8,162.4" fill="#129012"/>
<polygon points="781.7,282.40000000000003 788.3,282.40000000000003 785,276.8" fill="#f01010"/>
<polygon points="863.4000000000001,258.3 870.0,258.3 866.7,252.7" fill="#f01010"/>
<rect x="0" y="456" width="137" height="27.5" fill="#fff" fill-opacity="0.8"/>
<rect x="139" y="456" width="152" height="27.5" fill="#fff" fill-opacity="0.8"/>
<text x="10.3" y="472.8" font-family='"Liberation Sans", sans-serif' font-weight="bold" font-size="10.8" fill="#333" textLength="33.3" lengthAdjust="spacingAndGlyphs">VWAP</text>
<text x="47.7" y="472.8" font-family='"Liberation Sans", sans-serif' font-size="11" fill="#444" textLength="43.6" lengthAdjust="spacingAndGlyphs">20 1 2 3</text>
<rect x="-1.32" y="-6.00" width="2.64" height="3.00" transform="translate(104.5,470.1) rotate(0)" fill="#999"/><rect x="-1.32" y="-6.00" width="2.64" height="3.00" transform="translate(104.5,470.1) rotate(45)" fill="#999"/><rect x="-1.32" y="-6.00" width="2.64" height="3.00" transform="translate(104.5,470.1) rotate(90)" fill="#999"/><rect x="-1.32" y="-6.00" width="2.64" height="3.00" transform="translate(104.5,470.1) rotate(135)" fill="#999"/><rect x="-1.32" y="-6.00" width="2.64" height="3.00" transform="translate(104.5,470.1) rotate(180)" fill="#999"/><rect x="-1.32" y="-6.00" width="2.64" height="3.00" transform="translate(104.5,470.1) rotate(225)" fill="#999"/><rect x="-1.32" y="-6.00" width="2.64" height="3.00" transform="translate(104.5,470.1) rotate(270)" fill="#999"/><rect x="-1.32" y="-6.00" width="2.64" height="3.00" transform="translate(104.5,470.1) rotate(315)" fill="#999"/>
<circle cx="104.5" cy="470.1" r="3.72" fill="none" stroke="#999" stroke-width="2.52"/>
<line x1="119.5" y1="465.29999999999995" x2="128.7" y2="474.5" stroke="#999" stroke-width="3"/>
<line x1="128.7" y1="465.29999999999995" x2="119.5" y2="474.5" stroke="#999" stroke-width="3"/>
<text x="144.9" y="472.8" font-family='"Liberation Sans", sans-serif' font-weight="bold" font-size="10.8" fill="#333" textLength="75.6" lengthAdjust="spacingAndGlyphs">AUTO TREND</text>
<text x="224.6" y="472.8" font-family='"Liberation Sans", sans-serif' font-size="11" fill="#444" textLength="26.7" lengthAdjust="spacingAndGlyphs">3 3 2</text>
<rect x="-1.41" y="-6.40" width="2.82" height="3.20" transform="translate(264.4,470) rotate(0)" fill="#999"/><rect x="-1.41" y="-6.40" width="2.82" height="3.20" transform="translate(264.4,470) rotate(45)" fill="#999"/><rect x="-1.41" y="-6.40" width="2.82" height="3.20" transform="translate(264.4,470) rotate(90)" fill="#999"/><rect x="-1.41" y="-6.40" width="2.82" height="3.20" transform="translate(264.4,470) rotate(135)" fill="#999"/><rect x="-1.41" y="-6.40" width="2.82" height="3.20" transform="translate(264.4,470) rotate(180)" fill="#999"/><rect x="-1.41" y="-6.40" width="2.82" height="3.20" transform="translate(264.4,470) rotate(225)" fill="#999"/><rect x="-1.41" y="-6.40" width="2.82" height="3.20" transform="translate(264.4,470) rotate(270)" fill="#999"/><rect x="-1.41" y="-6.40" width="2.82" height="3.20" transform="translate(264.4,470) rotate(315)" fill="#999"/>
<circle cx="264.4" cy="470" r="3.97" fill="none" stroke="#999" stroke-width="2.69"/>
<line x1="279.5" y1="465.4" x2="288.70000000000005" y2="474.6" stroke="#999" stroke-width="3"/>
<line x1="288.70000000000005" y1="465.4" x2="279.5" y2="474.6" stroke="#999" stroke-width="3"/>
<rect x="0" y="538" width="1105" height="2" fill="#aaa"/>
<rect x="0" y="676" width="1106" height="2" fill="#999"/>
<rect x="1104" y="85" width="2" height="593" fill="#aaa"/>
<line x1="96.5" y1="678" x2="96.5" y2="682.5" stroke="#666" stroke-width="1"/>
<line x1="333.5" y1="678" x2="333.5" y2="682.5" stroke="#666" stroke-width="1"/>
<line x1="561.5" y1="678" x2="561.5" y2="682.5" stroke="#666" stroke-width="1"/>
<line x1="798.5" y1="678" x2="798.5" y2="682.5" stroke="#666" stroke-width="1"/>
<line x1="1045.5" y1="678" x2="1045.5" y2="682.5" stroke="#666" stroke-width="1"/>
<polygon points="14.4,583.5 18.8,583.3 27.7,582.8 30.4,583.5" fill="#b0b0b0"/>
<polygon points="51.9,583.5 55.0,582.8 55.6,583.5" fill="#b0b0b0"/>
<polygon points="222.7,583.5 228.3,580.7 237.7,578.3 246.6,580.0 250.3,583.5" fill="#b0b0b0"/>
<polygon points="304.5,583.5 310.9,580.7 319.8,579.5 328.7,575.6 337.7,579.9 347.1,575.6 353.7,583.5" fill="#b0b0b0"/>
<polygon points="418.7,583.5 419.9,583.0 421.7,583.5" fill="#b0b0b0"/>
<polygon points="448.8,583.5 456.3,577.3 465.2,581.2 474.1,580.0 483.7,575.3 488.5,583.5" fill="#b0b0b0"/>
<polyline points="0.0,589.7 9.9,583.7 18.8,583.3 27.7,582.8 36.2,585.0 45.3,585.0 55.0,582.8 64.6,594.3 73.2,593.6 82.4,605.9 92.0,611.0 118.8,597.4 127.9,596.8 136.8,599.1 146.2,599.1 155.6,597.7 164.4,607.3 174.0,599.4 182.9,595.3 192.3,587.1 201.0,588.1 210.0,586.7 219.3,585.2 228.3,580.7 237.7,578.3 246.6,580.0 255.7,588.6 264.2,588.1 274.0,592.9 283.0,590.6 292.1,590.6 301.8,584.7 310.9,580.7 319.8,579.5 328.7,575.6 337.7,579.9 347.1,575.6 355.7,585.9 365.1,604.3 374.1,609.4 383.0,613.4 392.4,614.6 401.1,597.8 410.5,586.9 419.9,583.0 429.0,585.5 438.2,587.2 447.3,584.7 456.3,577.3 465.2,581.2 474.1,580.0 483.7,575.3 492.6,590.6 502.0,593.2 511.0,588.9 520.3,596.3 528.8,595.8 538.4,593.7 547.3,596.6 556.7,601.8 566.1,606.0 574.6,606.0 583.5,605.7 593.2,596.1 602.4,591.5 611.5,593.7 620.6,599.7 629.8,599.2 638.8,606.0 648.2,610.6 657.1,608.1 666.2,615.8 675.6,607.7 684.5,612.9 693.5,608.2 702.6,609.8 711.5,602.3 720.9,600.4 730.0,603.0 739.2,596.6 748.2,599.2 757.3,598.7 766.2,604.3 775.1,606.4 784.8,603.5 793.7,606.0 802.6,603.5 812.1,595.4 821.0,600.0 829.9,598.0 839.0,600.4 848.4,607.2 857.8,606.0 866.8,604.8 875.7,605.2 885.1,598.8 894.2,597.0 903.1,591.5 912.5,590.1 921.5,599.2 930.4,600.4 939.8,602.6 948.9,604.3 957.8,604.3 966.7,601.8 975.7,604.8" fill="none" stroke="#222" stroke-width="1.4" stroke-linejoin="round"/>
<text x="10.5" y="565.8" font-family='"Liberation Sans", sans-serif' font-weight="bold" font-size="10.6" fill="#333" textLength="16.7" lengthAdjust="spacingAndGlyphs">RSI</text>
<text x="32.3" y="565.8" font-family='"Liberation Sans", sans-serif' font-size="10.8" fill="#555" textLength="12.3" lengthAdjust="spacingAndGlyphs">14</text>
<rect x="-1.47" y="-6.70" width="2.95" height="3.35" transform="translate(58,563) rotate(0)" fill="#999"/><rect x="-1.47" y="-6.70" width="2.95" height="3.35" transform="translate(58,563) rotate(45)" fill="#999"/><rect x="-1.47" y="-6.70" width="2.95" height="3.35" transform="translate(58,563) rotate(90)" fill="#999"/><rect x="-1.47" y="-6.70" width="2.95" height="3.35" transform="translate(58,563) rotate(135)" fill="#999"/><rect x="-1.47" y="-6.70" width="2.95" height="3.35" transform="translate(58,563) rotate(180)" fill="#999"/><rect x="-1.47" y="-6.70" width="2.95" height="3.35" transform="translate(58,563) rotate(225)" fill="#999"/><rect x="-1.47" y="-6.70" width="2.95" height="3.35" transform="translate(58,563) rotate(270)" fill="#999"/><rect x="-1.47" y="-6.70" width="2.95" height="3.35" transform="translate(58,563) rotate(315)" fill="#999"/>
<circle cx="58" cy="563" r="4.15" fill="none" stroke="#999" stroke-width="2.81"/>
<line x1="72.9" y1="558.4" x2="82.1" y2="567.6" stroke="#999" stroke-width="3"/>
<line x1="82.1" y1="558.4" x2="72.9" y2="567.6" stroke="#999" stroke-width="3"/>
<polyline points="97,565 103.4,558.4 109.8,565" fill="none" stroke="#555" stroke-width="1.3"/>
<line x1="103.4" y1="558.4" x2="103.4" y2="572" stroke="#555" stroke-width="1.3"/>
<line x1="1105" y1="495.3" x2="1108.7" y2="495.3" stroke="#555" stroke-width="1"/>
<text x="1111.8" y="499.6" font-family='"Liberation Sans", sans-serif' font-size="12" fill="#333" textLength="47.7" lengthAdjust="spacingAndGlyphs">2,800.00</text>
<line x1="1105" y1="445.2" x2="1108.7" y2="445.2" stroke="#555" stroke-width="1"/>
<text x="1111.8" y="449.5" font-family='"Liberation Sans", sans-serif' font-size="12" fill="#333" textLength="47.7" lengthAdjust="spacingAndGlyphs">2,900.00</text>
<line x1="1105" y1="395.0" x2="1108.7" y2="395.0" stroke="#555" stroke-width="1"/>
<text x="1111.8" y="399.3" font-family='"Liberation Sans", sans-serif' font-size="12" fill="#333" textLength="47.7" lengthAdjust="spacingAndGlyphs">3,000.00</text>
<line x1="1105" y1="344.9" x2="1108.7" y2="344.9" stroke="#555" stroke-width="1"/>
<text x="1111.8" y="349.2" font-family='"Liberation Sans", sans-serif' font-size="12" fill="#333" textLength="47.7" lengthAdjust="spacingAndGlyphs">3,100.00</text>
<line x1="1105" y1="294.8" x2="1108.7" y2="294.8" stroke="#555" stroke-width="1"/>
<text x="1111.8" y="299.1" font-family='"Liberation Sans", sans-serif' font-size="12" fill="#333" textLength="47.7" lengthAdjust="spacingAndGlyphs">3,200.00</text>
<line x1="1105" y1="244.7" x2="1108.7" y2="244.7" stroke="#555" stroke-width="1"/>
<text x="1111.8" y="249.0" font-family='"Liberation Sans", sans-serif' font-size="12" fill="#333" textLength="47.7" lengthAdjust="spacingAndGlyphs">3,300.00</text>
<line x1="1105" y1="194.6" x2="1108.7" y2="194.6" stroke="#555" stroke-width="1"/>
<text x="1111.8" y="198.9" font-family='"Liberation Sans", sans-serif' font-size="12" fill="#333" textLength="47.7" lengthAdjust="spacingAndGlyphs">3,400.00</text>
<line x1="1105" y1="144.5" x2="1108.7" y2="144.5" stroke="#555" stroke-width="1"/>
<text x="1111.8" y="148.8" font-family='"Liberation Sans", sans-serif' font-size="12" fill="#333" textLength="47.7" lengthAdjust="spacingAndGlyphs">3,500.00</text>
<line x1="1105" y1="94.4" x2="1108.7" y2="94.4" stroke="#555" stroke-width="1"/>
<text x="1111.8" y="98.7" font-family='"Liberation Sans", sans-serif' font-size="12" fill="#333" textLength="47.7" lengthAdjust="spacingAndGlyphs">3,600.00</text>
<line x1="1105" y1="583.5" x2="1108.7" y2="583.5" stroke="#555" stroke-width="1"/>
<line x1="1105" y1="630.5" x2="1108.7" y2="630.5" stroke="#555" stroke-width="1"/>
<text x="1111.4" y="587.3" font-family='"Liberation Sans", sans-serif' font-size="12" fill="#333" textLength="14.1" lengthAdjust="spacingAndGlyphs">70</text>
<text x="1111.4" y="634.6" font-family='"Liberation Sans", sans-serif' font-size="12" fill="#333" textLength="14.1" lengthAdjust="spacingAndGlyphs">30</text>
<path d="M1095.6,175.2 L1105.3,165.9 L1162,165.9 Q1164,165.9 1164,167.9 L1164,182.4 Q1164,184.4 1162,184.4 L1105.3,184.4 Z" fill="#ff8418"/>
<text x="1111.8" y="179.6" font-family='"Liberation Sans", sans-serif' font-size="12" fill="#111" textLength="47.7" lengthAdjust="spacingAndGlyphs">3,438.20</text>
<path d="M1095.6,213.3 L1105.3,204.1 L1162,204.1 Q1164,204.1 1164,206.1 L1164,220.6 Q1164,222.6 1162,222.6 L1105.3,222.6 Z" fill="#30c8c8"/>
<text x="1111.8" y="217.7" font-family='"Liberation Sans", sans-serif' font-size="12" fill="#fff" textLength="47.7" lengthAdjust="spacingAndGlyphs"></text>
<path d="M1095.6,212.3 L1105.3,203.1 L1162,203.1 Q1164,203.1 1164,205.1 L1164,219.6 Q1164,221.6 1162,221.6 L1105.3,221.6 Z" fill="#5f5aa8"/>
<text x="1111.8" y="216.7" font-family='"Liberation Sans", sans-serif' font-size="12" fill="#fff" textLength="47.7" lengthAdjust="spacingAndGlyphs">3,364.25</text>
<path d="M1095.6,249.9 L1105.3,240.7 L1162,240.7 Q1164,240.7 1164,242.7 L1164,257.1 Q1164,259.1 1162,259.1 L1105.3,259.1 Z" fill="#ff8418"/>
<text x="1111.8" y="254.3" font-family='"Liberation Sans", sans-serif' font-size="12" fill="#111" textLength="47.7" lengthAdjust="spacingAndGlyphs">3,289.20</text>
<path d="M1095.3,604.6 L1104,595.2 L1126.7,595.2 Q1128.7,595.2 1128.7,597.2 L1128.7,612 Q1128.7,614 1126.7,614 L1104,614 Z" fill="#000"/>
<text x="1110.7" y="609.6" font-family='"Liberation Sans", sans-serif' font-size="12" fill="#fff" textLength="14.8" lengthAdjust="spacingAndGlyphs">52</text>
<text x="84.3" y="695.7" font-family='"Liberation Sans", sans-serif' font-size="12" fill="#444" textLength="24.3" lengthAdjust="spacingAndGlyphs">Mar</text>
<text x="322.3" y="695.7" font-family='"Liberation Sans", sans-serif' font-size="12" fill="#444" textLength="22.2" lengthAdjust="spacingAndGlyphs">Apr</text>
<text x="547.9" y="695.7" font-family='"Liberation Sans", sans-serif' font-size="12" fill="#444" textLength="27.2" lengthAdjust="spacingAndGlyphs">May</text>
<text x="788.1" y="695.7" font-family='"Liberation Sans", sans-serif' font-size="12" fill="#444" textLength="21.1" lengthAdjust="spacingAndGlyphs">Jun</text>
<text x="1037.1" y="695.7" font-family='"Liberation Sans", sans-serif' font-size="12" fill="#444" textLength="16.2" lengthAdjust="spacingAndGlyphs">Jul</text>
</svg>
</body></html>
